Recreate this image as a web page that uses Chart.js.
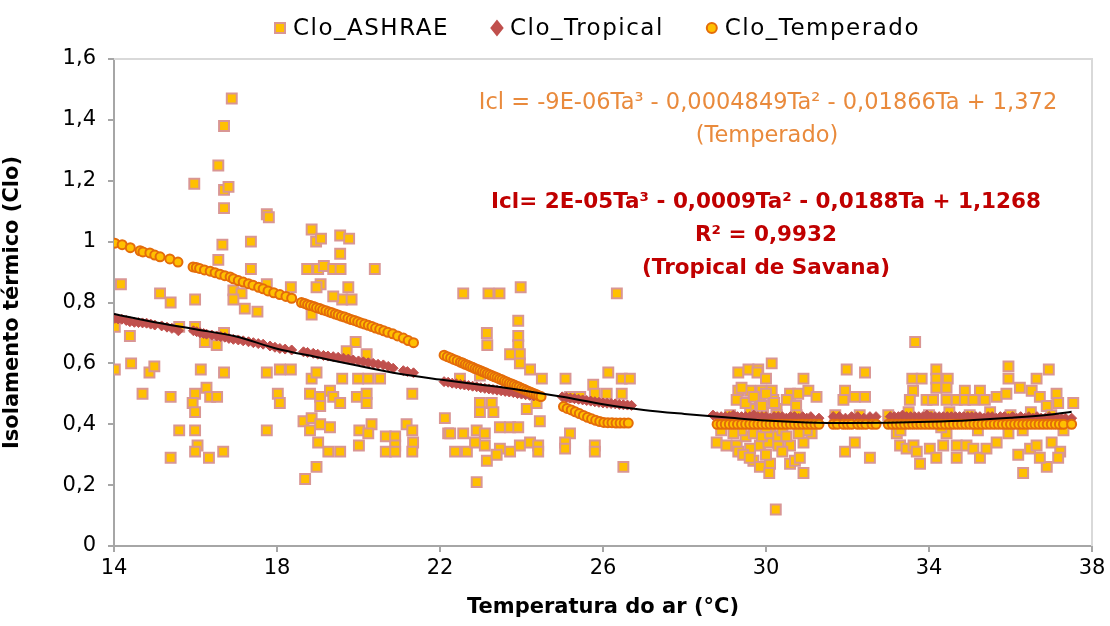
<!DOCTYPE html>
<html>
<head>
<meta charset="utf-8">
<script src="https://cdn.jsdelivr.net/npm/chart.js@4.4.1/dist/chart.umd.min.js"></script>
<style>
  html, body { margin: 0; padding: 0; background: #fff; }
  #wrap { width: 1110px; height: 626px; }
</style>
</head>
<body>
<div id="wrap"><canvas id="cloChart" width="1110" height="626"></canvas></div>
<script>
// axis ranges
const xRange = [14, 38, 4];
const yRange = [0, 1.6, 0.2];

const seriesNames = ['Clo_ASHRAE', 'Clo_Tropical', 'Clo_Temperado'];

// Clo_ASHRAE  [Ta, Clo]
const cloAshrae = [
  [16.89,1.47],[16.70,1.38],[16.56,1.25],[15.97,1.19],[16.70,1.17],[16.81,1.18],[16.70,1.11],[17.75,1.09],[17.80,1.08],
  [18.85,1.04],[18.96,1.00],[19.08,1.01],[19.55,1.02],[19.77,1.01],[19.55,0.96],[20.40,0.91],[18.74,0.91],[19.01,0.91],
  [19.15,0.92],[19.38,0.91],[19.56,0.91],[16.66,0.99],[16.56,0.94],[17.36,1.00],[17.36,0.91],[14.17,0.86],[15.13,0.83],
  [15.39,0.80],[15.99,0.81],[17.75,0.86],[16.93,0.84],[17.13,0.83],[16.93,0.81],[17.21,0.78],[17.52,0.77],[18.34,0.85],
  [19.07,0.86],[18.97,0.85],[19.75,0.85],[19.60,0.81],[19.83,0.81],[19.38,0.82],[18.85,0.76],
  [14.02,0.72],[14.39,0.69],[14.02,0.58],[14.42,0.60],[14.87,0.57],[14.99,0.59],[14.70,0.50],[15.39,0.49],[15.60,0.72],
  [15.99,0.72],[16.13,0.58],[16.70,0.57],[16.70,0.70],[16.23,0.67],[16.52,0.66],[15.99,0.50],[15.93,0.47],[15.99,0.44],
  [16.27,0.52],[16.36,0.49],[16.53,0.49],[15.60,0.38],[15.99,0.38],[15.39,0.29],[16.05,0.33],[15.99,0.31],[16.33,0.29],
  [16.68,0.31],[17.75,0.38],[17.75,0.57],[18.07,0.58],[18.34,0.58],[18.02,0.50],[18.07,0.47],[18.85,0.55],[18.97,0.57],
  [18.81,0.50],[19.06,0.49],[19.30,0.51],[19.38,0.49],[19.55,0.47],[19.06,0.46],[19.60,0.55],[19.99,0.55],[20.24,0.55],
  [20.53,0.55],[19.93,0.67],[19.71,0.64],[20.20,0.63],[19.96,0.49],[20.20,0.50],[20.20,0.47],[21.32,0.50],[18.65,0.41],
  [18.85,0.42],[18.81,0.38],[19.06,0.40],[19.30,0.39],[19.01,0.34],[19.26,0.31],[19.55,0.31],[18.97,0.26],[18.69,0.22],
  [20.02,0.38],[20.32,0.40],[20.24,0.37],[20.01,0.33],[20.67,0.36],[20.90,0.36],[20.90,0.33],[20.67,0.31],[20.90,0.31],
  [21.18,0.40],[21.32,0.38],[21.34,0.34],[21.32,0.31],[22.12,0.42],[22.20,0.37],
  [22.57,0.83],[23.19,0.83],[23.46,0.83],[23.98,0.85],[26.34,0.83],[23.92,0.74],[23.15,0.70],[23.16,0.66],[23.92,0.69],
  [23.92,0.66],[23.72,0.63],[23.96,0.63],[23.96,0.60],[24.21,0.58],[24.50,0.55],[25.08,0.55],[26.13,0.57],[26.46,0.55],
  [26.66,0.55],[25.76,0.53],[25.80,0.50],[26.09,0.50],[26.46,0.50],[25.19,0.49],[25.44,0.49],[22.49,0.55],[22.98,0.56],
  [22.98,0.47],[23.27,0.47],[22.98,0.44],[23.31,0.44],[24.45,0.41],[22.25,0.37],[22.57,0.37],[22.90,0.38],[23.10,0.37],
  [23.47,0.39],[23.72,0.39],[23.92,0.39],[22.37,0.31],[22.66,0.31],[22.86,0.34],[23.10,0.33],[23.47,0.32],[23.72,0.31],
  [23.96,0.33],[24.21,0.34],[24.41,0.33],[24.41,0.31],[23.15,0.28],[23.39,0.30],[22.90,0.21],[25.19,0.37],[25.07,0.34],
  [25.07,0.32],[25.80,0.33],[25.80,0.31],[26.50,0.26],[24.13,0.45],[24.37,0.47],
  [33.66,0.67],[30.14,0.60],[29.32,0.57],[29.57,0.58],[29.81,0.58],[29.79,0.57],[30.00,0.55],[30.92,0.55],[31.98,0.58],
  [32.43,0.57],[31.94,0.51],[31.90,0.48],[32.18,0.49],[32.43,0.49],[29.32,0.51],[29.61,0.51],[29.89,0.51],[30.14,0.51],
  [29.28,0.48],[29.85,0.48],[30.18,0.48],[30.59,0.50],[30.79,0.50],[31.04,0.51],[31.24,0.49],[30.51,0.48],[30.74,0.46],
  [29.61,0.45],[29.93,0.44],[30.26,0.45],[28.79,0.34],[29.03,0.33],[29.28,0.33],[29.32,0.31],[29.61,0.32],[29.85,0.33],
  [30.06,0.34],[30.30,0.33],[30.59,0.33],[30.92,0.34],[31.12,0.37],[29.44,0.30],[29.69,0.28],[29.85,0.26],[30.10,0.27],
  [30.08,0.24],[30.59,0.27],[30.71,0.28],[30.83,0.29],[30.92,0.24],[30.24,0.12],[31.94,0.31],[32.18,0.34],[32.55,0.29],
  [29.12,0.43],[29.77,0.43],[30.26,0.43],[30.75,0.43],[29.40,0.52],[29.50,0.47],[29.70,0.49],[29.90,0.46],[30.00,0.50],
  [30.20,0.47],[29.50,0.36],[29.70,0.37],[29.90,0.36],[30.10,0.37],[30.30,0.36],[29.40,0.38],[30.00,0.39],[30.40,0.38],
  [29.20,0.37],[30.50,0.36],[29.60,0.29],[30.00,0.30],[30.40,0.31],[28.90,0.38],[31.00,0.38],[30.80,0.37],
  [33.59,0.55],[33.82,0.55],[34.18,0.58],[34.18,0.55],[34.46,0.55],[34.18,0.52],[34.43,0.52],[34.88,0.51],[35.25,0.51],
  [33.61,0.51],[33.53,0.48],[33.94,0.48],[34.10,0.48],[34.43,0.48],[34.68,0.48],[34.88,0.48],[35.09,0.48],[35.37,0.48],
  [35.66,0.49],[35.90,0.50],[35.95,0.59],[35.95,0.55],[36.23,0.52],[36.64,0.55],[36.94,0.58],[36.52,0.51],[36.72,0.49],
  [36.89,0.46],[37.13,0.50],[37.17,0.47],[37.54,0.47],
  [33.21,0.37],[33.29,0.33],[33.45,0.32],[33.62,0.33],[33.70,0.31],[33.78,0.27],[34.02,0.32],[34.18,0.29],[34.35,0.33],
  [34.43,0.37],[34.68,0.33],[34.68,0.29],[34.92,0.33],[35.09,0.32],[35.25,0.29],[35.41,0.32],[35.66,0.34],[35.95,0.37],
  [36.19,0.30],[36.31,0.24],[36.48,0.32],[36.64,0.33],[36.89,0.26],[37.01,0.34],[37.22,0.31],[37.17,0.29],[36.72,0.29],
  [33.00,0.43],[33.50,0.44],[34.00,0.43],[34.50,0.44],[35.00,0.43],[35.50,0.44],[36.00,0.43],[36.50,0.44],[37.00,0.43],
  [33.30,0.38],[34.30,0.39],[35.20,0.38],[36.30,0.38],[37.30,0.38],[31.70,0.43],[32.30,0.43]
];

// Clo_Tropical  [Ta, Clo]
const cloTropical = [
  [14.02,0.748],[14.10,0.746],[14.19,0.745],[14.30,0.741],[14.39,0.737],[14.50,0.735],[14.60,0.734],[14.70,0.733],
  [14.80,0.732],[14.90,0.729],[15.00,0.726],[15.17,0.723],[15.30,0.719],[15.42,0.715],[15.58,0.707],[15.95,0.707],
  [16.03,0.704],[16.11,0.701],[16.20,0.698],[16.27,0.696],[16.40,0.693],[16.52,0.690],[16.62,0.688],[16.72,0.686],
  [16.82,0.682],[16.93,0.679],[17.05,0.677],[17.17,0.674],[17.30,0.671],[17.42,0.668],[17.54,0.665],[17.66,0.663],
  [17.83,0.657],[17.95,0.653],[18.07,0.649],[18.20,0.647],[18.36,0.644],[18.65,0.638],[18.75,0.636],[18.89,0.633],
  [19.00,0.630],[19.14,0.626],[19.25,0.624],[19.38,0.622],[19.50,0.620],[19.63,0.617],[19.75,0.614],[19.87,0.611],
  [20.00,0.608],[20.12,0.605],[20.24,0.602],[20.36,0.600],[20.48,0.597],[20.61,0.595],[20.73,0.590],[20.85,0.584],
  [21.10,0.576],[21.20,0.573],[21.35,0.569],
  [22.10,0.540],[22.20,0.538],[22.30,0.535],[22.40,0.533],[22.50,0.531],[22.60,0.529],[22.70,0.527],[22.80,0.525],
  [22.90,0.523],[23.00,0.520],[23.10,0.518],[23.20,0.516],[23.30,0.514],[23.40,0.512],[23.50,0.510],[23.60,0.508],
  [23.70,0.506],[23.80,0.504],[23.90,0.501],[24.00,0.499],[24.10,0.497],[24.20,0.495],[24.30,0.493],[24.45,0.490],
  [25.00,0.490],[25.10,0.488],[25.20,0.486],[25.30,0.484],[25.40,0.482],[25.50,0.480],[25.60,0.478],[25.70,0.476],
  [25.80,0.474],[25.90,0.472],[26.00,0.470],[26.10,0.469],[26.20,0.468],[26.30,0.467],[26.40,0.465],[26.50,0.464],
  [26.60,0.463],[26.70,0.462],
  [28.70,0.43],[28.80,0.425],[28.90,0.425],[29.00,0.425],[29.10,0.425],[29.20,0.43],[29.30,0.425],[29.40,0.425],[29.50,0.425],
  [29.60,0.425],[29.70,0.43],[29.80,0.425],[29.90,0.425],[30.00,0.425],[30.10,0.42],[30.20,0.425],[30.30,0.425],[30.40,0.425],
  [30.50,0.42],[30.60,0.425],[30.70,0.425],[30.80,0.42],[30.90,0.425],[31.00,0.42],[31.10,0.425],[31.30,0.42],
  [31.65,0.425],[31.80,0.425],[31.95,0.42],[32.10,0.425],[32.25,0.425],[32.40,0.42],[32.55,0.425],[32.70,0.425],
  [33.05,0.425],[33.15,0.425],[33.25,0.425],[33.35,0.43],[33.45,0.425],[33.55,0.425],[33.65,0.425],[33.75,0.425],[33.85,0.425],
  [33.95,0.43],[34.05,0.425],[34.15,0.425],[34.25,0.425],[34.35,0.425],[34.45,0.425],[34.55,0.425],[34.65,0.425],[34.75,0.425],
  [34.85,0.425],[34.95,0.425],[35.05,0.425],[35.15,0.425],[35.25,0.425],[35.35,0.42],[35.45,0.425],[35.55,0.425],[35.65,0.42],
  [35.75,0.425],[35.85,0.425],[35.95,0.42],[36.05,0.425],[36.15,0.42],[36.25,0.425],[36.35,0.42],[36.45,0.425],[36.55,0.42],
  [36.65,0.425],[36.75,0.42],[36.85,0.42],[36.95,0.425],[37.05,0.42],[37.15,0.42],[37.25,0.42],[37.35,0.42],[37.50,0.42]
];

// Clo_Temperado  [Ta, Clo]
const cloTemperado = [
  [14.02,0.995],[14.20,0.990],[14.40,0.980],[14.64,0.970],[14.71,0.966],[14.88,0.963],[15.00,0.956],[15.13,0.950],
  [15.37,0.943],[15.57,0.933],
  [15.94,0.917],[16.02,0.915],[16.10,0.912],[16.22,0.907],[16.36,0.903],[16.48,0.898],[16.60,0.893],[16.72,0.888],
  [16.85,0.884],[16.93,0.878],[17.05,0.872],[17.17,0.867],[17.30,0.862],[17.41,0.857],[17.55,0.850],[17.66,0.845],
  [17.78,0.838],[17.92,0.832],[18.07,0.826],[18.22,0.820],[18.36,0.814],
  [18.60,0.800],[18.68,0.797],[18.75,0.793],[18.82,0.790],[18.90,0.787],[18.97,0.783],[19.05,0.780],[19.12,0.776],
  [19.20,0.773],[19.28,0.769],[19.35,0.766],[19.43,0.762],[19.50,0.759],[19.58,0.755],[19.66,0.752],[19.74,0.748],
  [19.82,0.744],[19.90,0.741],[19.98,0.737],[20.06,0.733],[20.15,0.729],[20.24,0.725],[20.33,0.721],[20.42,0.716],
  [20.52,0.712],[20.62,0.707],[20.72,0.702],[20.84,0.697],[20.96,0.690],[21.10,0.683],[21.22,0.675],[21.35,0.668],
  [22.10,0.627],[22.18,0.622],[22.26,0.618],[22.34,0.613],[22.42,0.609],[22.50,0.604],[22.56,0.601],[22.62,0.597],
  [22.68,0.594],[22.74,0.590],[22.80,0.587],[22.86,0.583],[22.92,0.580],[22.98,0.577],[23.04,0.573],[23.10,0.570],
  [23.16,0.566],[23.22,0.563],[23.28,0.559],[23.34,0.556],[23.40,0.553],[23.46,0.549],[23.52,0.546],[23.58,0.542],
  [23.64,0.539],[23.70,0.535],[23.76,0.532],[23.82,0.529],[23.88,0.525],[23.94,0.522],[24.00,0.518],[24.06,0.515],
  [24.12,0.511],[24.18,0.508],[24.24,0.504],[24.30,0.501],[24.36,0.498],[24.42,0.494],[24.48,0.491],
  [25.03,0.458],[25.12,0.452],[25.22,0.447],[25.32,0.441],[25.42,0.435],[25.52,0.429],[25.62,0.423],[25.72,0.418],
  [25.82,0.413],[25.92,0.409],[26.02,0.406],[26.12,0.405],[26.22,0.405],[26.32,0.404],[26.42,0.404],[26.52,0.404],
  [26.62,0.404],
  [28.80,0.40],[28.90,0.40],[29.00,0.40],[29.10,0.40],[29.20,0.40],[29.30,0.40],[29.40,0.40],[29.50,0.40],[29.60,0.40],
  [29.70,0.40],[29.80,0.40],[29.90,0.40],[30.00,0.40],[30.10,0.40],[30.20,0.40],[30.30,0.40],[30.40,0.40],[30.50,0.40],
  [30.60,0.40],[30.70,0.40],[30.80,0.40],[30.90,0.40],[31.00,0.40],[31.10,0.40],[31.20,0.40],[31.30,0.40],
  [31.65,0.40],[31.75,0.40],[31.90,0.40],[32.00,0.40],[32.10,0.40],[32.25,0.40],[32.35,0.40],[32.45,0.40],[32.60,0.40],
  [32.70,0.40],
  [33.00,0.40],[33.10,0.40],[33.20,0.40],[33.30,0.40],[33.40,0.40],[33.50,0.40],[33.60,0.40],[33.70,0.40],[33.80,0.40],
  [33.90,0.40],[34.00,0.40],[34.10,0.40],[34.20,0.40],[34.30,0.40],[34.40,0.40],[34.50,0.40],[34.60,0.40],[34.70,0.40],
  [34.80,0.40],[34.90,0.40],[35.00,0.40],[35.10,0.40],[35.20,0.40],[35.30,0.40],[35.40,0.40],[35.50,0.40],[35.60,0.40],
  [35.70,0.40],[35.80,0.40],[35.90,0.40],[36.00,0.40],[36.10,0.40],[36.20,0.40],[36.30,0.40],[36.40,0.40],[36.50,0.40],
  [36.60,0.40],[36.70,0.40],[36.80,0.40],[36.90,0.40],[37.00,0.40],[37.10,0.40],[37.20,0.40],[37.30,0.40],[37.50,0.40]
];

// polynomial trendline of the tropical series
const trendTropical = [
  [14,0.762],[15,0.735],[16,0.712],[17,0.688],[18,0.648],[19,0.620],[20,0.592],[21,0.566],[22,0.547],[23,0.530],
  [24,0.512],[25,0.490],[26,0.466],[27,0.447],[28,0.434],[29,0.423],[30,0.412],[31,0.406],[32,0.404],[33,0.405],
  [34,0.408],[35,0.413],[36,0.421],[37,0.432],[37.5,0.441]
];

const eqTemperado = ['Icl = -9E-06Ta\u00B3 - 0,0004849Ta\u00B2 - 0,01866Ta + 1,372', '(Temperado)'];
const eqTropical = ['Icl= 2E-05Ta\u00B3 - 0,0009Ta\u00B2 - 0,0188Ta + 1,1268', 'R\u00B2 = 0,9932', '(Tropical de Savana)'];

const FONT = "'DejaVu Sans', sans-serif";
const toPts = arr => arr.map(p => ({ x: p[0], y: p[1] }));

// light frame on top / right of the plot area
const framePlugin = {
  id: 'frame',
  beforeDatasetsDraw(chart) {
    const a = chart.chartArea, ctx = chart.ctx;
    ctx.save();
    ctx.strokeStyle = '#D9D9D9';
    ctx.lineWidth = 2;
    ctx.beginPath();
    ctx.moveTo(a.left, a.top);
    ctx.lineTo(a.right, a.top);
    ctx.lineTo(a.right, a.bottom);
    ctx.stroke();
    ctx.restore();
  }
};

// legend drawn by hand so the spacing follows the original
const legendPlugin = {
  id: 'cloLegend',
  afterDraw(chart) {
    const ctx = chart.ctx;
    const cy = 28, gap = 42, box = 12, textGap = 7;
    ctx.save();
    ctx.font = '23px ' + FONT;
    if ('letterSpacing' in ctx) ctx.letterSpacing = '1.5px';
    ctx.textBaseline = 'middle';
    const widths = seriesNames.map(n => box + textGap + ctx.measureText(n).width);
    const total = widths.reduce((s, w) => s + w, 0) + gap * (widths.length - 1);
    let x = 597 - total / 2;
    seriesNames.forEach((name, i) => {
      const ds = chart.data.datasets[i];
      const cx = x + box / 2;
      ctx.fillStyle = ds.backgroundColor;
      ctx.strokeStyle = ds.borderColor;
      ctx.lineWidth = 2;
      ctx.beginPath();
      if (ds.pointStyle === 'rect') {
        ctx.rect(cx - 5, cy - 5, 10, 10);
      } else if (ds.pointStyle === 'rectRot') {
        ctx.moveTo(cx, cy - 7); ctx.lineTo(cx + 5.5, cy); ctx.lineTo(cx, cy + 7); ctx.lineTo(cx - 5.5, cy); ctx.closePath();
      } else {
        ctx.arc(cx, cy, 5, 0, Math.PI * 2);
      }
      ctx.fill();
      ctx.stroke();
      ctx.fillStyle = '#000';
      ctx.fillText(name, x + box + textGap, cy + 1);
      x += widths[i] + gap;
    });
    ctx.restore();
  }
};

// equation labels
const equationPlugin = {
  id: 'equations',
  afterDraw(chart) {
    const ctx = chart.ctx;
    ctx.save();
    ctx.textAlign = 'center';
    ctx.textBaseline = 'middle';
    ctx.fillStyle = '#E98A3C';
    ctx.font = '22.5px ' + FONT;
    ctx.fillText(eqTemperado[0], 768, 103);
    ctx.fillText(eqTemperado[1], 767, 136);
    ctx.fillStyle = '#C00000';
    ctx.font = 'bold 21.5px ' + FONT;
    ctx.fillText(eqTropical[0], 766, 202);
    ctx.fillText(eqTropical[1], 766, 235);
    ctx.fillText(eqTropical[2], 766, 268);
    ctx.restore();
  }
};

const canvas = document.getElementById('cloChart');
new Chart(canvas.getContext('2d'), {
  type: 'scatter',
  data: {
    datasets: [
      {
        label: seriesNames[0], data: toPts(cloAshrae), pointStyle: 'rect', pointRadius: 7,
        backgroundColor: '#FFC000', borderColor: '#D99694', borderWidth: 2, order: 4
      },
      {
        label: seriesNames[1], data: toPts(cloTropical), pointStyle: 'rectRot', pointRadius: 5,
        backgroundColor: '#C0504D', borderColor: '#C0504D', borderWidth: 1, order: 3
      },
      {
        label: seriesNames[2], data: toPts(cloTemperado), pointStyle: 'circle', pointRadius: 4.5,
        backgroundColor: '#FFC000', borderColor: '#E46C0A', borderWidth: 2, order: 2
      },
      {
        label: 'Poly. (Clo_Tropical)', data: toPts(trendTropical), showLine: true, pointRadius: 0,
        borderColor: '#000', borderWidth: 2, cubicInterpolationMode: 'monotone', fill: false, order: 1
      }
    ]
  },
  options: {
    responsive: false,
    animation: false,
    events: [],
    layout: { padding: { top: 59, right: 18, left: 0, bottom: 0 } },
    plugins: { legend: { display: false }, tooltip: { enabled: false } },
    scales: {
      x: {
        type: 'linear', min: xRange[0], max: xRange[1],
        afterFit: s => { s.height = 80; },
        ticks: { stepSize: xRange[2], color: '#000', font: { family: FONT, size: 21 }, padding: 4 },
        grid: { drawOnChartArea: false, drawTicks: true, tickLength: 6, color: '#A6A6A6', lineWidth: 2 },
        border: { color: '#A6A6A6', width: 2 },
        title: { display: true, text: 'Temperatura do ar (\u00B0C)', color: '#000',
                 font: { family: FONT, size: 21, weight: 'bold' }, padding: { top: 0, bottom: 6 } }
      },
      y: {
        min: yRange[0], max: yRange[1],
        afterFit: s => { s.width = 114; },
        ticks: { stepSize: yRange[2], color: '#000', font: { family: FONT, size: 21 }, padding: 12,
                 callback: v => String(Math.round(v * 10) / 10).replace('.', ',') },
        grid: { drawOnChartArea: false, drawTicks: true, tickLength: 6, color: '#A6A6A6', lineWidth: 2 },
        border: { color: '#A6A6A6', width: 2 },
        title: { display: true, text: 'Isolamento t\u00E9rmico (Clo)', color: '#000',
                 font: { family: FONT, size: 21, weight: 'bold' }, padding: { top: 0, bottom: 0 } }
      }
    }
  },
  plugins: [framePlugin, legendPlugin, equationPlugin]
});
</script>
</body>
</html>
